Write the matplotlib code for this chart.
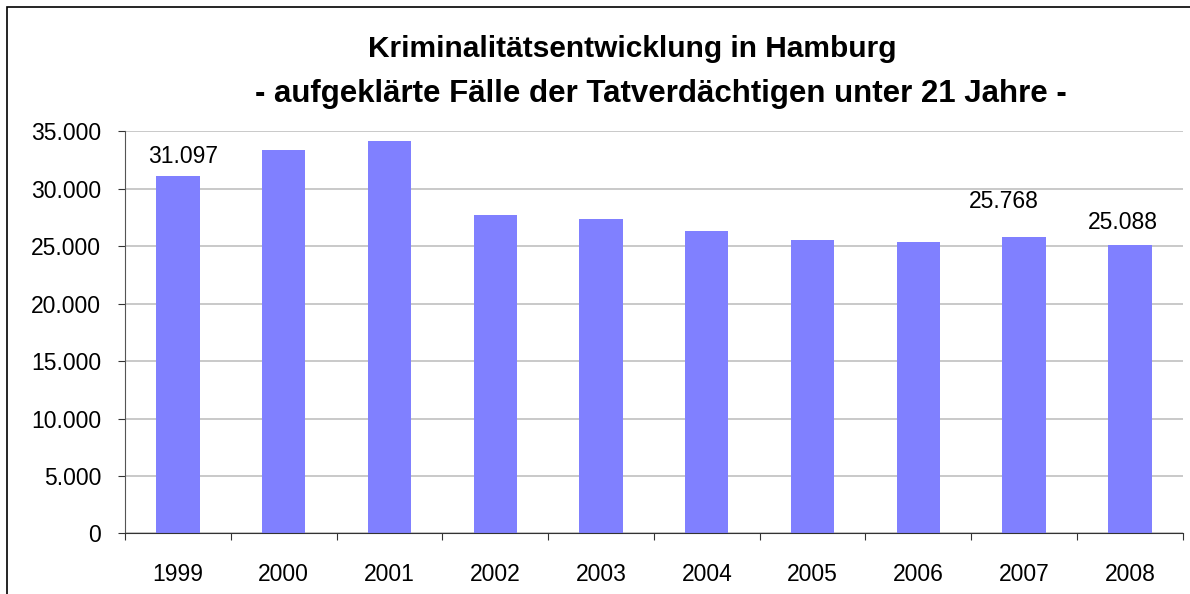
import matplotlib.pyplot as plt
from matplotlib.ticker import FuncFormatter, MultipleLocator
from matplotlib.patches import Rectangle

plt.rcParams['font.family'] = ['Liberation Sans', 'DejaVu Sans']

# Daten
jahre = ['1999', '2000', '2001', '2002', '2003', '2004', '2005', '2006', '2007', '2008']
faelle = [31097, 33370, 34160, 27700, 27350, 26300, 25520, 25350, 25768, 25088]
# beschriftete Balken und Versatz der Beschriftung (x, y in Pixel)
beschriftung = {0: (5, 8), 8: (-20, 24), 9: (-7, 11)}

def de_format(v, pos=None):
    return f'{int(round(v)):,}'.replace(',', '.')

fig = plt.figure(figsize=(11.9, 5.94), dpi=100)
ax = fig.add_axes([0.105, 0.1019, 0.889, 0.677])

x = list(range(len(jahre)))
ax.bar(x, faelle, width=0.41, color='#8080ff', zorder=2)

for i, (dx, dy) in beschriftung.items():
    ax.annotate(de_format(faelle[i]), (x[i], faelle[i]), xytext=(dx * 0.72, dy * 0.72),
                textcoords='offset points', ha='center', va='bottom', fontsize=16.5)

ax.set_xlim(-0.5, len(jahre) - 0.5)
ax.set_ylim(0, 35000)
ax.yaxis.set_major_locator(MultipleLocator(5000))
ax.yaxis.set_major_formatter(FuncFormatter(de_format))
ax.grid(axis='y', color='#c0c0c0', linewidth=1.2, zorder=0)

# Ticks an den Kategoriegrenzen, Beschriftung in der Mitte
ax.set_xticks([i - 0.5 for i in range(len(jahre) + 1)])
ax.set_xticklabels([])
ax.set_xticks(x, minor=True)
ax.set_xticklabels(jahre, minor=True, fontsize=16.5)
ax.tick_params(axis='x', which='minor', length=0, pad=21)
ax.tick_params(axis='x', which='major', length=5, direction='out', color='#333333')
ax.tick_params(axis='y', length=5, direction='out', labelsize=16.5, pad=12, color='#333333')

for s in ['top', 'right']:
    ax.spines[s].set_visible(False)
ax.spines['left'].set_color('#555555')
ax.spines['bottom'].set_color('#333333')

fig.text(0.531, 0.918, 'Kriminalitätsentwicklung in Hamburg', ha='center', va='center',
         fontsize=21.5, fontweight='bold')
fig.text(0.555, 0.842, '- aufgeklärte Fälle der Tatverdächtigen unter 21 Jahre -', ha='center',
         va='center', fontsize=22.5, fontweight='bold')

# Rahmen um das Diagramm
fig.patches.append(Rectangle((7 / 1190, -0.1), 1.2, 1 - 7 / 594 + 0.1, transform=fig.transFigure,
                             fill=False, edgecolor='black', linewidth=1.2))

fig.savefig('out.png', dpi=100)
